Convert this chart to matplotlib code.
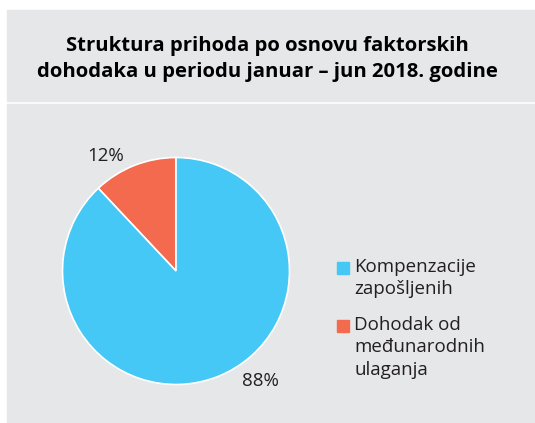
import numpy as np
import matplotlib
matplotlib.use("Agg")
import matplotlib.pyplot as plt
from matplotlib.patches import Rectangle

# Data
categories = ['Kompenzacije\nzapošljenih', 'Dohodak od\nmeđunarodnih\nulaganja']
shares = [88, 12]
colors = ['#45c8f5', '#f46a4e']
title = 'Struktura prihoda po osnovu faktorskih\ndohodaka u periodu januar \u2013 jun 2018. godine'

plt.rcParams['font.family'] = ['Open Sans', 'DejaVu Sans']
textcolor = '#231f20'
gray = '#e6e7e8'

W, H = 535, 423
fig = plt.figure(figsize=(W / 100, H / 100), dpi=100)
fig.patch.set_facecolor('white')

# background boxes (pixel coords from top)
fig.patches.append(Rectangle((7 / W, 1 - 101 / H), 1, 91 / H,
                             transform=fig.transFigure, color=gray, zorder=-5))
fig.patches.append(Rectangle((7 / W, 0), 1, 1 - 104 / H,
                             transform=fig.transFigure, color=gray, zorder=-5))

fig.text(267 / W, 1 - 59 / H, title, ha='center', va='center',
         fontsize=14.6, fontweight='bold', color='black', linespacing=1.4)

# pie
cx, cy, r = 176, 271, 113.5
ax = fig.add_axes([(cx - r) / W, (H - cy - r) / H, 2 * r / W, 2 * r / H],
                  zorder=2)
wedges, _ = ax.pie(shares[::-1], colors=colors[::-1], startangle=90,
                   counterclock=True, radius=1,
                   wedgeprops=dict(edgecolor='white', linewidth=1.2))
ax.set_xlim(-1, 1)
ax.set_ylim(-1, 1)
ax.set_aspect('auto')
ax.axis('off')

# percent labels placed outside the wedges
offsets = [10, 16]   # angular shift, degrees
dists = [1.19, 1.22]
for w, s, off, d in zip(wedges, shares[::-1], offsets, dists):
    mid = (w.theta1 + w.theta2) / 2 + off
    ax.text(d * np.cos(np.radians(mid)), d * np.sin(np.radians(mid)),
            '{}%'.format(s), ha='center', va='center', fontsize=13.5,
            color=textcolor)

# legend: square aligned with first line of each label
line_h = 24
y = 268
for c, lab in zip(colors, categories):
    fig.patches.append(Rectangle((337 / W, 1 - (y + 6) / H), 12 / W, 12 / H,
                                 transform=fig.transFigure, color=c))
    fig.text(354 / W, 1 - (y - 10) / H, lab, ha='left', va='top',
             fontsize=13.5, color=textcolor, linespacing=1.32)
    y += line_h * (lab.count('\n') + 1) + 10

fig.savefig('out.png', dpi=100, facecolor=fig.get_facecolor())
